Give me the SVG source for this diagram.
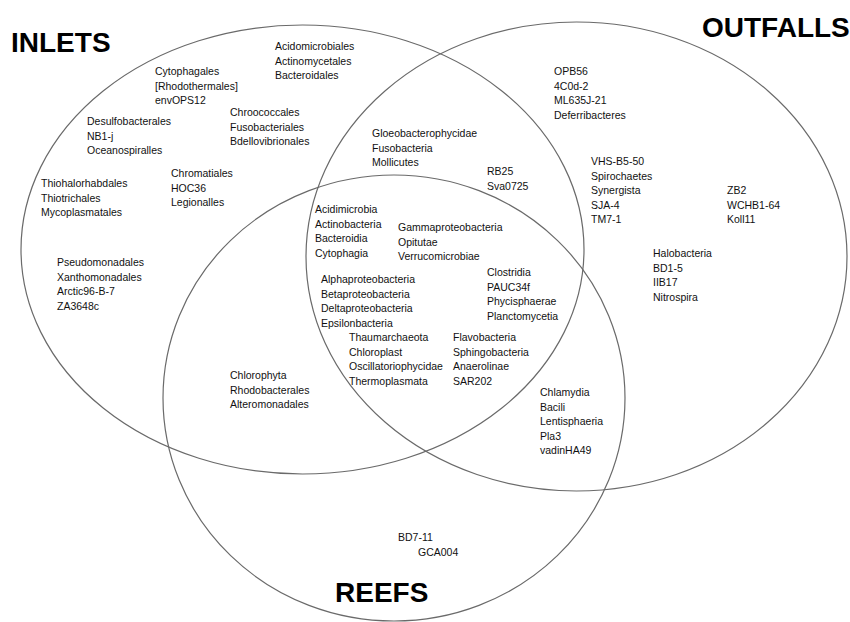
<svg xmlns="http://www.w3.org/2000/svg" width="850" height="622" viewBox="0 0 850 622">
<style>
.set{fill:none;stroke:#6a6a6a;stroke-width:1.2}
.title{font-family:"Liberation Sans",Arial,sans-serif;font-weight:bold;font-size:28px;fill:#000}
.lbl{font-family:"Liberation Sans",Arial,sans-serif;font-size:10.5px;fill:#111}
</style>
<rect width="850" height="622" fill="#fff"/>
<g id="connectors"></g>
<g id="set-inlets">
<ellipse class="set" cx="302.5" cy="249.5" rx="281.5" ry="224.5"/>
<text class="title" x="11" y="52">INLETS</text>
</g>
<g id="set-outfalls">
<ellipse class="set" cx="576.5" cy="256.5" rx="270.5" ry="234.5"/>
<text class="title" x="702" y="37">OUTFALLS</text>
</g>
<g id="set-reefs">
<ellipse class="set" cx="394" cy="398" rx="231" ry="223"/>
<text class="title" x="335" y="602">REEFS</text>
</g>
<g id="g-acidomicrobiales"><text class="lbl" x="275" y="50"><tspan x="275">Acidomicrobiales</tspan><tspan x="275" dy="14.5">Actinomycetales</tspan><tspan x="275" dy="14.5">Bacteroidales</tspan></text></g>
<g id="g-cytophagales"><text class="lbl" x="155" y="75"><tspan x="155">Cytophagales</tspan><tspan x="155" dy="14.5">[Rhodothermales]</tspan><tspan x="155" dy="14.5">envOPS12</tspan></text></g>
<g id="g-chroococcales"><text class="lbl" x="230" y="116"><tspan x="230">Chroococcales</tspan><tspan x="230" dy="14.5">Fusobacteriales</tspan><tspan x="230" dy="14.5">Bdellovibrionales</tspan></text></g>
<g id="g-desulfobacterales"><text class="lbl" x="87" y="125"><tspan x="87">Desulfobacterales</tspan><tspan x="87" dy="14.5">NB1-j</tspan><tspan x="87" dy="14.5">Oceanospiralles</tspan></text></g>
<g id="g-thiohalorhabdales"><text class="lbl" x="41" y="187"><tspan x="41">Thiohalorhabdales</tspan><tspan x="41" dy="14.5">Thiotrichales</tspan><tspan x="41" dy="14.5">Mycoplasmatales</tspan></text></g>
<g id="g-chromatiales"><text class="lbl" x="171" y="177"><tspan x="171">Chromatiales</tspan><tspan x="171" dy="14.5">HOC36</tspan><tspan x="171" dy="14.5">Legionalles</tspan></text></g>
<g id="g-pseudomonadales"><text class="lbl" x="57" y="266"><tspan x="57">Pseudomonadales</tspan><tspan x="57" dy="14.5">Xanthomonadales</tspan><tspan x="57" dy="14.5">Arctic96-B-7</tspan><tspan x="57" dy="14.5">ZA3648c</tspan></text></g>
<g id="g-gloeobacterophycidae"><text class="lbl" x="372" y="137"><tspan x="372">Gloeobacterophycidae</tspan><tspan x="372" dy="14.5">Fusobacteria</tspan><tspan x="372" dy="14.5">Mollicutes</tspan></text></g>
<g id="g-rb25"><text class="lbl" x="487" y="175"><tspan x="487">RB25</tspan><tspan x="487" dy="14.5">Sva0725</tspan></text></g>
<g id="g-opb56"><text class="lbl" x="554" y="75"><tspan x="554">OPB56</tspan><tspan x="554" dy="14.5">4C0d-2</tspan><tspan x="554" dy="14.5">ML635J-21</tspan><tspan x="554" dy="14.5">Deferribacteres</tspan></text></g>
<g id="g-vhs"><text class="lbl" x="591" y="165"><tspan x="591">VHS-B5-50</tspan><tspan x="591" dy="14.5">Spirochaetes</tspan><tspan x="591" dy="14.5">Synergista</tspan><tspan x="591" dy="14.5">SJA-4</tspan><tspan x="591" dy="14.5">TM7-1</tspan></text></g>
<g id="g-zb2"><text class="lbl" x="727" y="194"><tspan x="727">ZB2</tspan><tspan x="727" dy="14.5">WCHB1-64</tspan><tspan x="727" dy="14.5">Koll11</tspan></text></g>
<g id="g-halobacteria"><text class="lbl" x="653" y="257"><tspan x="653">Halobacteria</tspan><tspan x="653" dy="14.5">BD1-5</tspan><tspan x="653" dy="14.5">IIB17</tspan><tspan x="653" dy="14.5">Nitrospira</tspan></text></g>
<g id="g-acidimicrobia"><text class="lbl" x="315" y="213"><tspan x="315">Acidimicrobia</tspan><tspan x="315" dy="14.5">Actinobacteria</tspan><tspan x="315" dy="14.5">Bacteroidia</tspan><tspan x="315" dy="14.5">Cytophagia</tspan></text></g>
<g id="g-gammaproteobacteria"><text class="lbl" x="398" y="231"><tspan x="398">Gammaproteobacteria</tspan><tspan x="398" dy="14.5">Opitutae</tspan><tspan x="398" dy="14.5">Verrucomicrobiae</tspan></text></g>
<g id="g-alphaproteobacteria"><text class="lbl" x="321" y="283"><tspan x="321">Alphaproteobacteria</tspan><tspan x="321" dy="14.5">Betaproteobacteria</tspan><tspan x="321" dy="14.5">Deltaproteobacteria</tspan><tspan x="321" dy="14.5">Epsilonbacteria</tspan></text></g>
<g id="g-clostridia"><text class="lbl" x="487" y="276"><tspan x="487">Clostridia</tspan><tspan x="487" dy="14.5">PAUC34f</tspan><tspan x="487" dy="14.5">Phycisphaerae</tspan><tspan x="487" dy="14.5">Planctomycetia</tspan></text></g>
<g id="g-thaumarchaeota"><text class="lbl" x="349" y="341"><tspan x="349">Thaumarchaeota</tspan><tspan x="349" dy="14.5">Chloroplast</tspan><tspan x="349" dy="14.5">Oscillatoriophycidae</tspan><tspan x="349" dy="14.5">Thermoplasmata</tspan></text></g>
<g id="g-flavobacteria"><text class="lbl" x="453" y="341"><tspan x="453">Flavobacteria</tspan><tspan x="453" dy="14.5">Sphingobacteria</tspan><tspan x="453" dy="14.5">Anaerolinae</tspan><tspan x="453" dy="14.5">SAR202</tspan></text></g>
<g id="g-chlorophyta"><text class="lbl" x="230" y="379"><tspan x="230">Chlorophyta</tspan><tspan x="230" dy="14.5">Rhodobacterales</tspan><tspan x="230" dy="14.5">Alteromonadales</tspan></text></g>
<g id="g-chlamydia"><text class="lbl" x="540" y="396"><tspan x="540">Chlamydia</tspan><tspan x="540" dy="14.5">Bacili</tspan><tspan x="540" dy="14.5">Lentisphaeria</tspan><tspan x="540" dy="14.5">Pla3</tspan><tspan x="540" dy="14.5">vadinHA49</tspan></text></g>
<g id="g-bd7"><text class="lbl" x="398" y="541">BD7-11</text><text class="lbl" x="418" y="556">GCA004</text></g>
</svg>
